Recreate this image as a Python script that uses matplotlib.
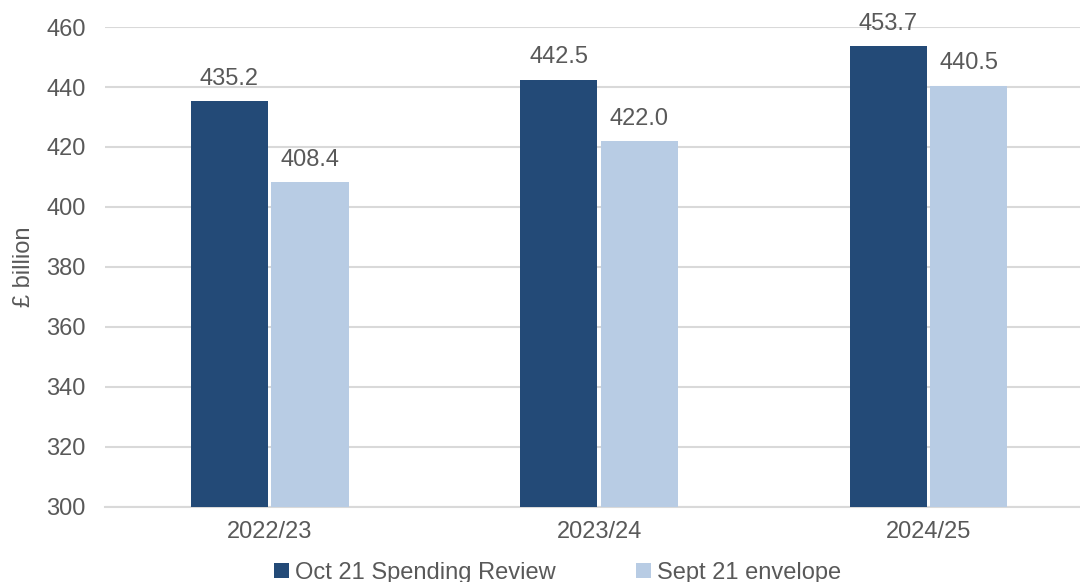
import numpy as np
import matplotlib
matplotlib.use("Agg")
from matplotlib import pyplot as plt

# data
years = ["2022/23", "2023/24", "2024/25"]
oct_sr = [435.2, 442.5, 453.7]
sept_env = [408.4, 422.0, 440.5]
series_names = ["Oct 21 Spending Review", "Sept 21 envelope"]

plt.rcParams['font.family'] = ['Liberation Sans', 'DejaVu Sans']

text_col = '#595959'
dark = '#234a77'
light = '#b8cce4'

fig = plt.figure(figsize=(10.8, 5.82), dpi=100)
ax = fig.add_axes([0.0972, 0.1289, 0.915, 0.8247])

x = np.arange(len(years))
w = 0.234
off = 0.1225
b1 = ax.bar(x - off, oct_sr, w, color=dark, label=series_names[0], zorder=3)
b2 = ax.bar(x + off, sept_env, w, color=light, label=series_names[1], zorder=3)

# value labels
for bars, vals in [(b1, oct_sr), (b2, sept_env)]:
    for r, v in zip(bars, vals):
        ax.annotate('%.1f' % v, (r.get_x() + r.get_width() / 2, v),
                    xytext=(0, 8), textcoords='offset points',
                    ha='center', va='bottom', fontsize=17, color=text_col)

ax.set_ylim(300, 460)
ax.set_xlim(-0.5, 2.5)
ax.set_yticks(range(300, 461, 20))
ax.set_xticks(x)
ax.set_xticklabels(years)
ax.tick_params(length=0, labelsize=17, colors=text_col)
ax.tick_params(axis='x', pad=10)
ax.tick_params(axis='y', pad=14)
ax.yaxis.grid(True, color='#d9d9d9', linewidth=1.5, zorder=0)
ax.set_axisbelow(True)
for s in ['top', 'right', 'left']:
    ax.spines[s].set_visible(False)
ax.spines['bottom'].set_color('#d9d9d9')
ax.spines['bottom'].set_linewidth(1.5)

ax.set_ylabel('£ billion', fontsize=17, color=text_col)
ax.yaxis.set_label_coords(-0.071, 0.5)

fig.legend(loc='center', bbox_to_anchor=(0.516, 0.016), ncol=2, frameon=False,
           fontsize=17, labelcolor=text_col, handlelength=0.65, handleheight=0.65,
           handletextpad=0.25, columnspacing=3.4)

plt.savefig('out.png', dpi=100)
